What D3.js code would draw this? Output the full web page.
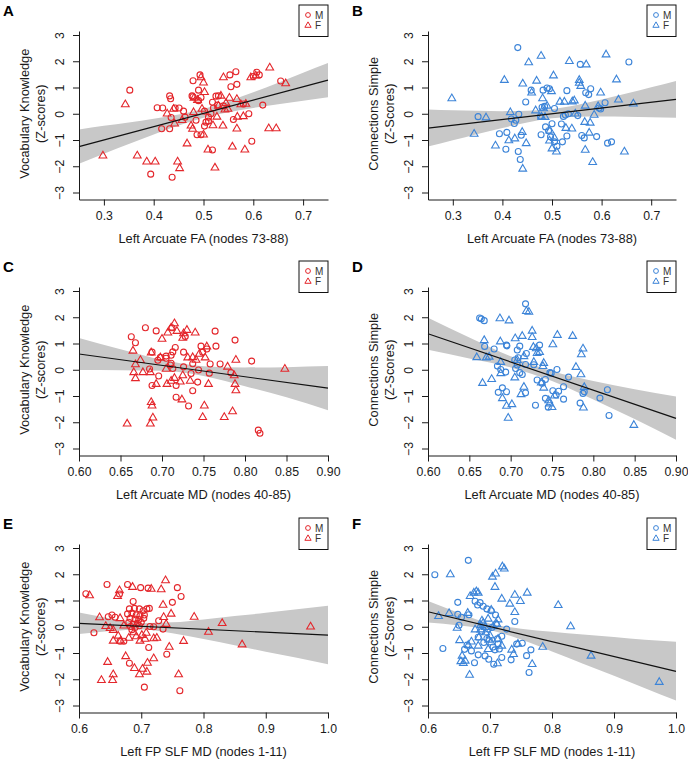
<!DOCTYPE html>
<html><head><meta charset="utf-8">
<script src="https://cdn.jsdelivr.net/npm/d3@7"></script>
<style>body{margin:0;background:#fff}svg{display:block}text{font-family:"Liberation Sans",Arial,Helvetica,sans-serif}</style>
</head><body><svg id="chart" width="688" height="760"></svg>
<script>
// ---------- data ----------
const panelLetters = ["A","B","C","D","E","F"];
const legendLabels = ["M","F"];
const xTitles = ["Left Arcuate FA (nodes 73-88)","Left Arcuate MD (nodes 40-85)","Left FP SLF MD (nodes 1-11)"];
const yTitlesVocab = ["Vocabulary Knowledge","(Z-scores)"];
const yTitlesConn = ["Connections Simple","(Z-Scores)"];
const yTicks = [-3,-2,-1,0,1,2,3];
const xTicksFA = [0.3,0.4,0.5,0.6,0.7];
const xTicksArcMD = [0.60,0.65,0.70,0.75,0.80,0.85,0.90];
const xTicksSlfMD = [0.6,0.7,0.8,0.9,1.0];
const xDomFA = [0.25,0.75];
const xDomArcMD = [0.60,0.90];
const xDomSlfMD = [0.6,1.0];

const aMale = [[0.352,0.90],[0.432,0.68],[0.434,0.57],[0.407,0.23],[0.418,0.22],[0.443,0.22],[0.451,0.22],[0.416,-0.57],[0.432,-0.57],[0.435,-0.14],[0.394,-2.30],[0.437,-2.42],[0.479,1.26],[0.477,0.68],[0.479,0.65],[0.490,0.50],[0.490,0.90],[0.493,1.48],[0.460,0.10],[0.463,-0.13],[0.485,-0.25],[0.487,-0.80],[0.495,-0.80],[0.502,-0.47],[0.505,-0.32],[0.510,-0.13],[0.515,0.00],[0.502,0.10],[0.518,0.44],[0.520,0.22],[0.525,0.67],[0.530,0.68],[0.528,0.33],[0.518,-1.38],[0.553,1.48],[0.555,1.03],[0.567,1.12],[0.565,1.60],[0.560,-0.22],[0.580,0.37],[0.591,0.00],[0.597,-1.05],[0.600,1.42],[0.607,1.58],[0.612,1.48],[0.619,0.33],[0.655,1.25],[0.495,0.62],[0.540,0.30],[0.510,-0.28]];
const aFemale = [[0.298,-1.60],[0.343,0.35],[0.367,-1.60],[0.386,-1.83],[0.403,-1.83],[0.427,0.00],[0.440,0.18],[0.442,-0.38],[0.448,-1.83],[0.452,-2.08],[0.457,-0.25],[0.467,-1.14],[0.475,-0.46],[0.478,-0.58],[0.481,0.60],[0.488,0.52],[0.495,1.38],[0.497,0.18],[0.500,1.18],[0.500,-0.80],[0.502,0.82],[0.509,-1.37],[0.519,-0.45],[0.523,-2.06],[0.527,-0.12],[0.530,0.30],[0.535,0.68],[0.539,-0.46],[0.540,1.38],[0.543,0.15],[0.549,0.18],[0.552,0.60],[0.558,-1.26],[0.567,0.55],[0.567,-0.57],[0.568,-0.12],[0.575,0.35],[0.580,-0.10],[0.583,-1.37],[0.585,0.37],[0.595,1.38],[0.605,1.45],[0.631,-0.56],[0.633,1.75],[0.646,-0.56],[0.665,1.15],[0.545,0.40],[0.480,0.05]];

const bMale = [[0.431,2.52],[0.557,1.88],[0.655,1.97],[0.351,-0.11],[0.394,-0.76],[0.409,-0.71],[0.407,-1.35],[0.432,-1.44],[0.436,-1.74],[0.424,-0.37],[0.418,-0.20],[0.433,-0.02],[0.438,-0.82],[0.447,0.45],[0.458,0.90],[0.477,-0.10],[0.480,0.25],[0.482,0.90],[0.487,-0.50],[0.490,0.98],[0.495,0.95],[0.493,-0.65],[0.497,-0.88],[0.500,-0.38],[0.505,0.20],[0.505,-1.07],[0.510,-1.24],[0.519,-0.39],[0.521,-1.07],[0.523,-0.10],[0.527,-0.05],[0.530,0.88],[0.530,-0.85],[0.533,0.00],[0.552,-0.07],[0.560,-0.83],[0.565,-0.92],[0.568,0.80],[0.574,0.73],[0.578,0.95],[0.590,-0.87],[0.595,0.22],[0.598,0.18],[0.607,0.42],[0.612,-1.12],[0.620,-1.07],[0.478,-0.80],[0.485,0.28],[0.427,-0.25]];
const bFemale = [[0.298,0.58],[0.343,-0.77],[0.367,-0.15],[0.386,-1.22],[0.404,1.28],[0.413,-1.02],[0.416,0.05],[0.425,-0.95],[0.440,-0.70],[0.441,1.14],[0.441,-2.10],[0.448,-1.13],[0.453,1.95],[0.459,0.80],[0.467,0.12],[0.469,1.25],[0.478,2.20],[0.479,-0.12],[0.481,0.58],[0.483,0.20],[0.486,-0.13],[0.490,0.30],[0.495,-1.03],[0.496,-0.65],[0.499,0.85],[0.500,-1.33],[0.503,1.45],[0.505,-0.93],[0.509,-1.45],[0.516,0.45],[0.525,0.45],[0.528,-0.55],[0.535,2.00],[0.540,-0.57],[0.541,0.46],[0.545,0.50],[0.547,0.00],[0.555,1.28],[0.555,1.17],[0.558,1.05],[0.566,-0.32],[0.567,0.30],[0.567,-1.38],[0.569,1.87],[0.575,-0.73],[0.577,-0.35],[0.582,-1.85],[0.585,-0.05],[0.593,0.28],[0.598,0.80],[0.609,2.25],[0.630,1.30],[0.634,0.53],[0.646,-1.45],[0.664,0.38]];

const cMale = [[0.663,1.26],[0.668,1.03],[0.680,1.60],[0.693,1.48],[0.688,0.67],[0.685,0.03],[0.688,-0.60],[0.696,-0.24],[0.695,0.36],[0.698,0.47],[0.705,0.52],[0.710,0.18],[0.711,0.25],[0.713,0.68],[0.716,0.85],[0.712,1.60],[0.717,-1.05],[0.717,-0.60],[0.726,0.67],[0.728,1.27],[0.726,0.11],[0.732,-1.38],[0.735,-0.14],[0.737,-0.80],[0.737,0.23],[0.743,-0.47],[0.744,-0.01],[0.747,0.90],[0.749,0.67],[0.754,0.79],[0.757,-0.13],[0.758,0.22],[0.764,1.47],[0.765,0.90],[0.770,0.22],[0.783,-0.11],[0.788,1.13],[0.808,0.33],[0.816,-2.30],[0.818,-2.42],[0.711,0.55],[0.705,0.44],[0.713,0.05]];
const cFemale = [[0.658,-2.06],[0.665,0.72],[0.666,-0.10],[0.668,0.20],[0.668,-0.33],[0.674,0.36],[0.677,-0.10],[0.686,-2.06],[0.687,-1.24],[0.688,-1.37],[0.689,-1.83],[0.687,0.65],[0.686,-0.10],[0.693,-0.55],[0.698,0.46],[0.700,1.17],[0.705,0.03],[0.706,-0.55],[0.707,1.41],[0.711,1.60],[0.711,-0.43],[0.715,1.76],[0.715,-0.32],[0.718,1.47],[0.722,-0.46],[0.725,1.21],[0.725,-0.22],[0.726,1.38],[0.730,1.51],[0.731,0.46],[0.734,-0.43],[0.737,0.47],[0.740,1.41],[0.741,0.37],[0.745,0.60],[0.749,-1.81],[0.751,-1.37],[0.752,0.46],[0.756,-0.55],[0.775,-1.81],[0.779,0.11],[0.785,-1.59],[0.787,-0.22],[0.788,-0.55],[0.789,-0.79],[0.789,0.37],[0.848,0.03],[0.724,-1.14],[0.754,0.88]];

const dMale = [[0.6625,1.97],[0.6645,1.94],[0.668,1.87],[0.6685,0.89],[0.680,0.79],[0.684,0.14],[0.685,-0.86],[0.688,0.01],[0.690,-0.69],[0.695,0.94],[0.6955,0.91],[0.694,-0.09],[0.695,-0.84],[0.708,0.75],[0.711,0.90],[0.709,0.46],[0.708,0.18],[0.706,0.05],[0.711,-0.11],[0.714,-0.18],[0.718,-0.88],[0.718,2.51],[0.718,0.20],[0.728,0.19],[0.730,-1.35],[0.732,-0.39],[0.735,0.94],[0.738,-0.51],[0.742,-0.37],[0.742,-1.09],[0.7455,-1.43],[0.7475,-0.11],[0.749,-0.13],[0.751,-0.80],[0.755,-0.96],[0.756,0.01],[0.758,-0.82],[0.764,-1.12],[0.764,-0.65],[0.770,-0.28],[0.784,-1.27],[0.7875,-0.90],[0.789,-0.84],[0.808,-1.08],[0.817,-0.76],[0.819,-1.74],[0.705,0.37],[0.719,0.62]];
const dFemale = [[0.659,0.47],[0.666,-0.51],[0.668,1.12],[0.6705,0.46],[0.674,0.49],[0.677,-0.36],[0.687,1.95],[0.688,0.29],[0.6875,1.07],[0.688,-0.14],[0.690,-1.09],[0.695,-1.38],[0.697,-1.84],[0.698,1.87],[0.7015,-1.32],[0.7055,1.19],[0.705,-0.30],[0.708,0.36],[0.7125,-0.94],[0.714,1.28],[0.716,0.51],[0.716,-0.66],[0.719,2.23],[0.722,2.20],[0.726,1.48],[0.726,1.24],[0.7275,0.86],[0.728,0.29],[0.731,0.81],[0.732,0.63],[0.737,-0.49],[0.739,0.13],[0.740,0.25],[0.740,-0.69],[0.746,-1.17],[0.747,-1.29],[0.750,-1.43],[0.751,0.96],[0.753,-0.99],[0.7565,1.32],[0.775,1.28],[0.779,0.10],[0.785,-0.18],[0.7855,0.58],[0.7875,0.80],[0.789,-0.67],[0.788,-1.45],[0.849,-2.11],[0.735,0.67]];

const eMale = [[0.611,1.26],[0.624,-0.23],[0.645,1.61],[0.647,0.38],[0.653,0.45],[0.658,0.36],[0.665,1.25],[0.666,-0.55],[0.672,-0.55],[0.678,1.61],[0.678,0.49],[0.680,0.17],[0.681,0.68],[0.681,-1.39],[0.682,0.32],[0.683,0.01],[0.685,0.52],[0.685,-0.11],[0.687,0.96],[0.687,0.10],[0.689,0.70],[0.690,0.29],[0.690,-0.03],[0.692,0.45],[0.694,0.14],[0.696,0.27],[0.697,0.68],[0.697,0.04],[0.698,0.42],[0.699,1.49],[0.700,0.17],[0.703,0.61],[0.704,0.32],[0.705,0.45],[0.705,-2.30],[0.709,0.68],[0.711,1.47],[0.712,-0.79],[0.713,0.70],[0.714,0.01],[0.720,0.00],[0.728,0.23],[0.735,-0.09],[0.741,-1.05],[0.750,0.93],[0.758,1.49],[0.762,-2.44],[0.764,1.15]];
const eFemale = [[0.617,1.19],[0.633,0.35],[0.636,-2.04],[0.643,0.02],[0.646,-1.35],[0.650,-0.06],[0.654,-2.04],[0.655,-1.82],[0.655,-0.54],[0.655,-0.13],[0.662,1.16],[0.665,1.38],[0.663,-0.35],[0.666,0.32],[0.667,-0.54],[0.672,0.04],[0.675,-1.13],[0.680,-0.43],[0.686,1.51],[0.689,-1.58],[0.688,-0.22],[0.692,-0.37],[0.697,-1.82],[0.698,-0.54],[0.701,-0.32],[0.702,-1.61],[0.706,-0.47],[0.708,-0.24],[0.709,-1.72],[0.710,-1.38],[0.716,1.44],[0.720,-0.45],[0.720,-1.21],[0.725,-0.43],[0.732,1.42],[0.735,0.83],[0.736,0.36],[0.739,1.76],[0.740,0.10],[0.745,-0.77],[0.748,0.49],[0.760,-1.82],[0.768,-0.55],[0.785,0.37],[0.808,-0.20],[0.830,0.13],[0.862,-0.68],[0.972,0.00]];

const fMale = [[0.611,1.98],[0.624,-0.83],[0.648,0.93],[0.648,0.47],[0.650,0.06],[0.654,0.36],[0.659,-0.86],[0.663,-0.70],[0.665,2.53],[0.666,0.46],[0.670,-0.92],[0.675,-1.37],[0.676,0.97],[0.680,0.83],[0.681,-0.40],[0.681,-1.07],[0.684,0.92],[0.687,-0.17],[0.689,0.78],[0.690,-0.60],[0.692,-1.11],[0.695,0.68],[0.695,-0.45],[0.697,-0.09],[0.698,-1.24],[0.702,0.61],[0.703,-0.03],[0.705,-0.77],[0.706,-1.43],[0.708,-0.88],[0.709,0.45],[0.710,0.10],[0.712,-0.46],[0.713,-0.66],[0.715,-0.85],[0.719,-1.17],[0.719,-0.36],[0.727,-0.09],[0.734,-1.26],[0.740,0.20],[0.743,-0.66],[0.752,-0.63],[0.759,-1.10],[0.763,-1.74],[0.766,-0.88]];
const fFemale = [[0.617,0.40],[0.634,0.51],[0.636,1.99],[0.647,-0.05],[0.651,-0.52],[0.653,-1.32],[0.655,-1.11],[0.657,-1.39],[0.660,-1.30],[0.664,0.52],[0.665,-0.70],[0.667,-1.84],[0.668,1.16],[0.670,-0.57],[0.674,1.29],[0.678,1.34],[0.681,1.29],[0.676,-0.11],[0.681,-0.73],[0.682,-0.41],[0.685,-0.11],[0.685,0.06],[0.687,0.23],[0.689,0.14],[0.692,-0.02],[0.693,-0.22],[0.697,0.30],[0.698,-0.50],[0.697,-0.86],[0.700,-0.34],[0.702,0.64],[0.702,-0.60],[0.704,1.90],[0.705,0.01],[0.708,1.51],[0.709,2.02],[0.711,0.10],[0.712,-1.40],[0.713,0.27],[0.713,-0.47],[0.719,-0.73],[0.719,1.06],[0.720,2.29],[0.723,2.21],[0.732,0.87],[0.735,-0.88],[0.738,-1.05],[0.740,1.21],[0.740,0.55],[0.745,-0.66],[0.749,0.97],[0.760,1.29],[0.768,-1.43],[0.785,-0.77],[0.810,0.82],[0.830,0.01],[0.863,-1.11],[0.973,-2.11]];

// regression fits and 95% confidence bands
const bandXFA = [0.25,0.30,0.35,0.40,0.45,0.50,0.55,0.60,0.65,0.70,0.75];
const aLine = [[0.25,-1.25],[0.75,1.28]];
const aBandLo = [-1.90,-1.52,-1.15,-0.79,-0.45,-0.155,0.06,0.22,0.36,0.50,0.63];
const aBandHi = [-0.60,-0.46,-0.33,-0.19,-0.03,0.185,0.48,0.82,1.18,1.56,1.93];
const bLine = [[0.25,-0.55],[0.75,0.55]];
const bBandLo = [-1.25,-1.01,-0.77,-0.54,-0.33,-0.17,-0.11,-0.10,-0.11,-0.13,-0.15];
const bBandHi = [0.16,0.13,0.11,0.10,0.11,0.17,0.33,0.54,0.77,1.01,1.25];
const bandXArcMD = [0.60,0.65,0.70,0.75,0.80,0.85,0.90];
const cLine = [[0.60,0.60],[0.90,-0.70]];
const cBandLo = [-0.01,-0.02,-0.04,-0.235,-0.625,-1.05,-1.54];
const cBandHi = [1.21,0.78,0.38,0.135,0.09,0.10,0.14];
const dLine = [[0.60,1.37],[0.90,-1.85]];
const dBandLo = [0.76,0.43,0.09,-0.425,-1.135,-1.88,-2.67];
const dBandHi = [1.98,1.23,0.51,-0.055,-0.425,-0.74,-1.02];
const bandXSlfMD = [0.60,0.65,0.70,0.75,0.80,0.85,0.90,0.95,1.00];
const eLine = [[0.60,0.13],[1.00,-0.32]];
const eBandLo = [-0.28,-0.166,-0.10,-0.245,-0.47,-0.705,-0.95,-1.185,-1.43];
const eBandHi = [0.54,0.314,0.138,0.167,0.28,0.405,0.53,0.665,0.80];
const fLine = [[0.60,0.57],[1.00,-1.70]];
const fBandLo = [0.16,0.046,-0.12,-0.486,-0.94,-1.405,-1.87,-2.345,-2.81];
const fBandHi = [0.98,0.526,0.12,-0.074,-0.19,-0.295,-0.39,-0.495,-0.57];

// ---------- layout / style ----------
const RED = "#e4262b", BLUE = "#3c84d8", BAND = "#c8c8c8", INK = "#1a1a1a";
const colLeft = [79, 428], colRight = [328, 676];
const rowTop = [35, 291, 548];           // pixel of y = 3
const UNIT = 26.25;                      // px per z-score unit

const panels = [
  {L:panelLetters[0], r:0, c:0, m:aMale, f:aFemale, col:RED,  xd:xDomFA,    xt:xTicksFA,    fmt:d3.format(".1f"), xtitle:xTitles[0], yt:yTitlesVocab, line:aLine, bx:bandXFA,    lo:aBandLo, hi:aBandHi},
  {L:panelLetters[1], r:0, c:1, m:bMale, f:bFemale, col:BLUE, xd:xDomFA,    xt:xTicksFA,    fmt:d3.format(".1f"), xtitle:xTitles[0], yt:yTitlesConn,  line:bLine, bx:bandXFA,    lo:bBandLo, hi:bBandHi},
  {L:panelLetters[2], r:1, c:0, m:cMale, f:cFemale, col:RED,  xd:xDomArcMD, xt:xTicksArcMD, fmt:d3.format(".2f"), xtitle:xTitles[1], yt:yTitlesVocab, line:cLine, bx:bandXArcMD, lo:cBandLo, hi:cBandHi},
  {L:panelLetters[3], r:1, c:1, m:dMale, f:dFemale, col:BLUE, xd:xDomArcMD, xt:xTicksArcMD, fmt:d3.format(".2f"), xtitle:xTitles[1], yt:yTitlesConn,  line:dLine, bx:bandXArcMD, lo:dBandLo, hi:dBandHi},
  {L:panelLetters[4], r:2, c:0, m:eMale, f:eFemale, col:RED,  xd:xDomSlfMD, xt:xTicksSlfMD, fmt:d3.format(".1f"), xtitle:xTitles[2], yt:yTitlesVocab, line:eLine, bx:bandXSlfMD, lo:eBandLo, hi:eBandHi},
  {L:panelLetters[5], r:2, c:1, m:fMale, f:fFemale, col:BLUE, xd:xDomSlfMD, xt:xTicksSlfMD, fmt:d3.format(".1f"), xtitle:xTitles[2], yt:yTitlesConn,  line:fLine, bx:bandXSlfMD, lo:fBandLo, hi:fBandHi}
];

const svg = d3.select("#chart");
svg.append("rect").attr("width",688).attr("height",760).attr("fill","#fff");
const tri = d3.symbol(d3.symbolTriangle, 26);
const triSmall = d3.symbol(d3.symbolTriangle, 17);

panels.forEach(p => {
  const x0 = colLeft[p.c], x1 = colRight[p.c], y3 = rowTop[p.r];
  const axisY = y3 + 6*UNIT + 7;
  const x = d3.scaleLinear().domain(p.xd).range([x0, x1]);
  const yBottomVal = -3 - (axisY - (y3 + 6*UNIT))/UNIT;
  const yTopVal = 3 + 4/UNIT;
  const y = d3.scaleLinear().domain([yBottomVal, yTopVal]).range([axisY, y3 - 4]);
  const g = svg.append("g");

  // confidence band
  const bandData = p.bx.map((v,i)=>({x:v, lo:p.lo[i], hi:p.hi[i]}));
  g.append("path").datum(bandData)
    .attr("fill", BAND).attr("stroke","none")
    .attr("d", d3.area().curve(d3.curveMonotoneX).x(d=>x(d.x)).y0(d=>y(d.lo)).y1(d=>y(d.hi)));

  // points
  g.selectAll("circle.m").data(p.m).join("circle").attr("class","m")
    .attr("cx", d=>x(d[0])).attr("cy", d=>y(d[1])).attr("r", 3)
    .attr("fill","none").attr("stroke", p.col).attr("stroke-width", 1.1);
  g.selectAll("path.f").data(p.f).join("path").attr("class","f")
    .attr("transform", d=>`translate(${x(d[0])},${y(d[1])})`).attr("d", tri)
    .attr("fill","none").attr("stroke", p.col).attr("stroke-width", 1.1);

  // regression line
  g.append("line")
    .attr("x1", x(p.line[0][0])).attr("y1", y(p.line[0][1]))
    .attr("x2", x(p.line[1][0])).attr("y2", y(p.line[1][1]))
    .attr("stroke","#111").attr("stroke-width",1.2);

  // axes
  const ax = g.append("g").attr("transform",`translate(0,${axisY})`)
    .call(d3.axisBottom(x).tickValues(p.xt).tickFormat(p.fmt).tickSize(6).tickSizeOuter(0).tickPadding(6));
  const ay = g.append("g").attr("transform",`translate(${x0},0)`)
    .call(d3.axisLeft(y).tickValues(yTicks).tickFormat(d3.format("d")).tickSize(6).tickSizeOuter(0));
  [ax, ay].forEach(a => {
    a.select(".domain").attr("stroke", INK).attr("stroke-width", 1);
    a.selectAll(".tick line").attr("stroke", INK).attr("stroke-width", 1);
    a.selectAll("text").attr("fill", INK).style("font-size","12.3px")
      .style("font-family",'"Liberation Sans",Arial,sans-serif');
  });
  ay.selectAll(".tick text").attr("x", null).attr("dy", null)
    .attr("text-anchor","middle")
    .attr("transform","translate(-19,0) rotate(-90)")
    .attr("dominant-baseline","central");

  // axis titles
  g.append("text").attr("x",(x0+x1)/2).attr("y", axisY + 43)
    .attr("text-anchor","middle").attr("fill",INK).style("font-size","12.8px").text(p.xtitle);
  const yc = y(0);
  g.append("text").attr("transform",`translate(${x0-55},${yc}) rotate(-90)`)
    .attr("text-anchor","middle").attr("dominant-baseline","central")
    .attr("fill",INK).style("font-size","12.8px").text(p.yt[0]);
  g.append("text").attr("transform",`translate(${x0-39},${yc}) rotate(-90)`)
    .attr("text-anchor","middle").attr("dominant-baseline","central")
    .attr("fill",INK).style("font-size","12.8px").text(p.yt[1]);

  // panel letter
  g.append("text").attr("x", x0 - 76).attr("y", y3 - 19)
    .attr("fill","#000").style("font-size","15px").style("font-weight","bold").text(p.L);

  // legend
  const lw = 29, lx = x1 - lw, ly = y3 - 30;
  const lg = g.append("g");
  lg.append("rect").attr("x", lx).attr("y", ly).attr("width", lw).attr("height", 31.5)
    .attr("fill","#fff").attr("stroke","#111").attr("stroke-width",1);
  lg.append("circle").attr("cx", lx+9).attr("cy", ly+10).attr("r",2.4)
    .attr("fill","none").attr("stroke",p.col).attr("stroke-width",1);
  lg.append("path").attr("transform",`translate(${lx+9},${ly+20.5})`).attr("d", triSmall)
    .attr("fill","none").attr("stroke",p.col).attr("stroke-width",1);
  lg.append("text").attr("x", lx+16).attr("y", ly+10).attr("dominant-baseline","central")
    .attr("fill","#333").style("font-size","10px").text(legendLabels[0]);
  lg.append("text").attr("x", lx+16).attr("y", ly+20.5).attr("dominant-baseline","central")
    .attr("fill","#333").style("font-size","10px").text(legendLabels[1]);
});
</script></body></html>
